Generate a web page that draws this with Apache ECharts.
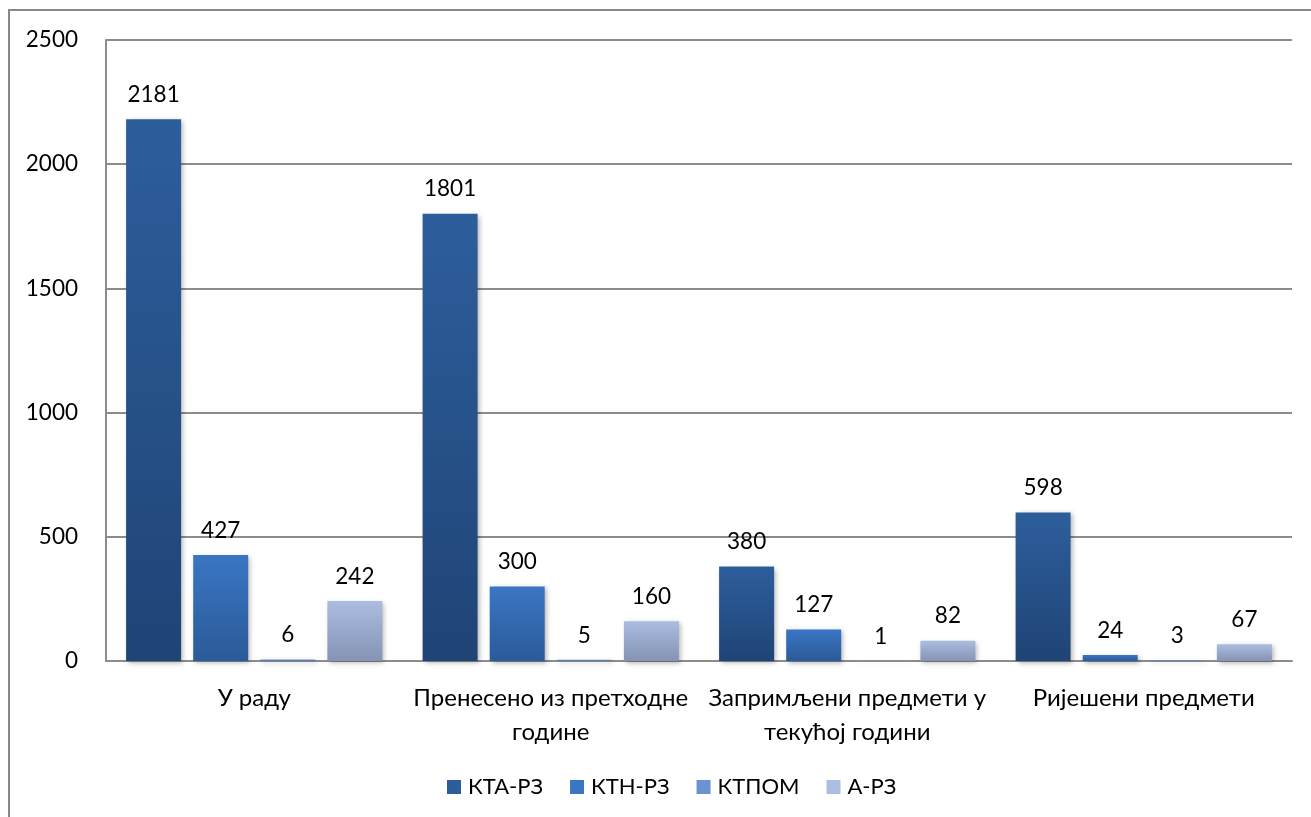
<!DOCTYPE html>
<html>
<head>
<meta charset="utf-8">
<script src="https://cdn.jsdelivr.net/npm/echarts@6/dist/echarts.min.js"></script>
<style>
html,body{margin:0;padding:0;background:#fff;}
#c{width:1311px;height:817px;}
</style>
</head>
<body>
<div id="c"></div>
<script>
const categories = ['У раду', 'Пренесено из претходне\nгодине', 'Запримљени предмети у\nтекућој години', 'Ријешени предмети'];
const seriesNames = ['КТА-РЗ', 'КТН-РЗ', 'КТПОМ', 'А-РЗ'];
const ktaRz = [2181, 1801, 380, 598];
const ktnRz = [427, 300, 127, 24];
const ktpom = [6, 5, 1, 3];
const aRz = [242, 160, 82, 67];
const yTicks = { min: 0, max: 2500, interval: 500 };

const gradients = [
  ['#2d5e9c', '#1f4476'],
  ['#3a76c4', '#2b5a98'],
  ['#6b93cf', '#506f9f'],
  ['#abbde0', '#8593b4']
];
const values = [ktaRz, ktnRz, ktpom, aRz];
const font = 'Lato, "Open Sans", sans-serif';

const chart = echarts.init(document.getElementById('c'));
chart.setOption({
  animation: false,
  textStyle: { fontFamily: font },
  graphic: [{
    type: 'rect',
    shape: { x: 9, y: 10, width: 1320, height: 830 },
    style: { fill: 'none', stroke: '#888', lineWidth: 2 },
    silent: true
  }],
  grid: { left: 106, right: 19, top: 40, bottom: 156 },
  legend: {
    data: seriesNames.map((n, i) => ({ name: n, itemStyle: { color: gradients[i][0] } })),
    top: 771,
    left: 442,
    itemWidth: 14,
    itemHeight: 14,
    itemGap: 27,
    icon: 'rect',
    textStyle: { fontSize: 22, color: '#000', fontFamily: font, padding: [0, 0, 0, 2] }
  },
  xAxis: {
    type: 'category',
    data: categories,
    axisLine: { show: true, lineStyle: { color: '#8c8c8c', width: 2 } },
    axisTick: { show: false },
    axisLabel: { fontSize: 24, color: '#000', lineHeight: 34, margin: 20, interval: 0, fontFamily: font }
  },
  yAxis: {
    type: 'value',
    min: yTicks.min, max: yTicks.max, interval: yTicks.interval,
    axisLine: { show: true, lineStyle: { color: '#8c8c8c', width: 2 } },
    axisTick: { show: false },
    splitLine: { lineStyle: { color: '#8c8c8c', width: 2 } },
    axisLabel: { fontSize: 22.5, color: '#000', margin: 28, fontFamily: font, formatter: v => String(v) }
  },
  series: seriesNames.map((n, i) => ({
    name: n,
    type: 'bar',
    data: values[i],
    barWidth: 55,
    barGap: '22%',
    itemStyle: {
      color: new echarts.graphic.LinearGradient(0, 0, 0, 1, [
        { offset: 0, color: gradients[i][0] },
        { offset: 1, color: gradients[i][1] }
      ]),
      shadowBlur: 5,
      shadowColor: 'rgba(0,0,0,0.3)',
      shadowOffsetX: 2,
      shadowOffsetY: 2
    },
    label: {
      show: true,
      position: 'top',
      distance: 13,
      fontSize: 22.5,
      color: '#000',
      fontFamily: font
    }
  }))
});
</script>
</body>
</html>
